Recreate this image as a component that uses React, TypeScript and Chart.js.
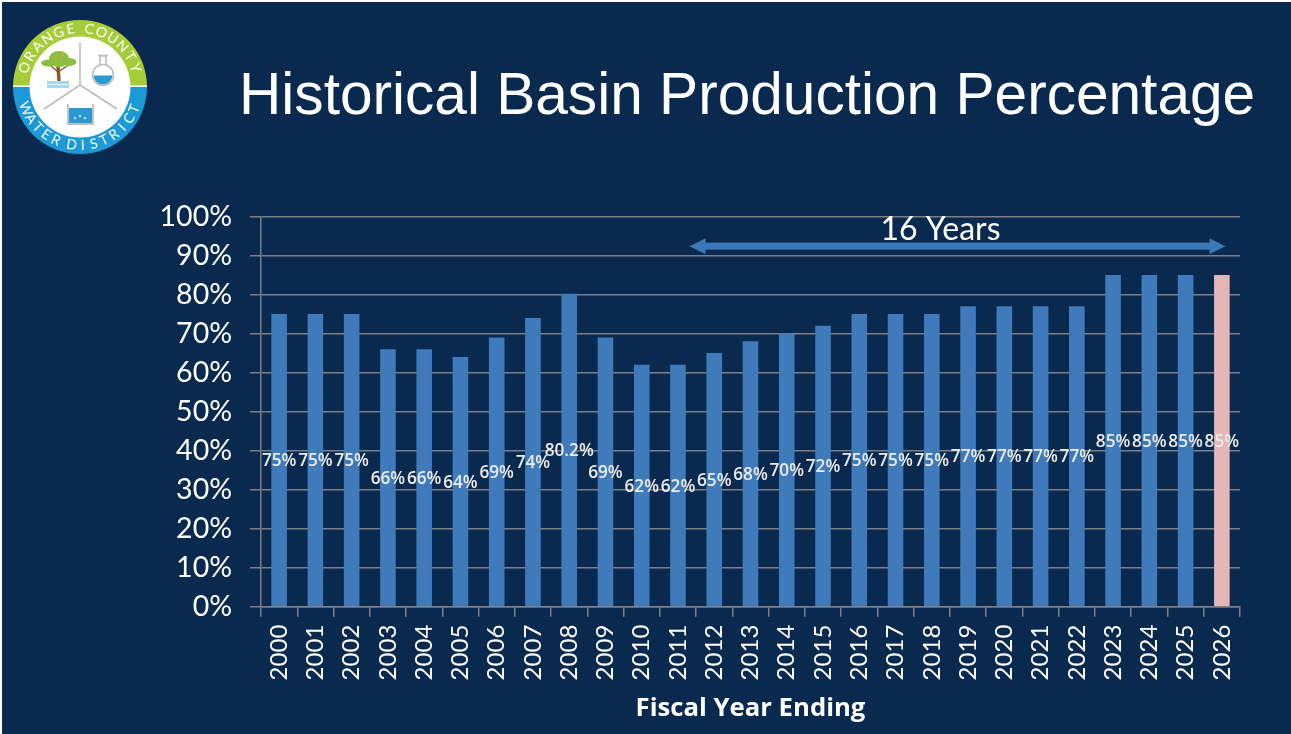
import React, { useEffect, useRef } from "react";
import { Chart, registerables } from "chart.js";

Chart.register(...registerables);

const years = ["2000","2001","2002","2003","2004","2005","2006","2007","2008","2009","2010","2011","2012","2013","2014","2015","2016","2017","2018","2019","2020","2021","2022","2023","2024","2025","2026"];
const percentages = [75,75,75,66,66,64,69,74,80.2,69,62,62,65,68,70,72,75,75,75,77,77,77,77,85,85,85,85];
const valueLabels = ["75%","75%","75%","66%","66%","64%","69%","74%","80.2%","69%","62%","62%","65%","68%","70%","72%","75%","75%","75%","77%","77%","77%","77%","85%","85%","85%","85%"];
const barColors = years.map((y) => (y === "2026" ? "#e6b5b5" : "#3f7abb"));
const titleText = "Historical Basin Production Percentage";
const axisTitle = "Fiscal Year Ending";
const spanLabel = "16 Years";
const spanStart = 11.32;
const spanEnd = 26.1;
const spanValue = 92.4;
const spanLabelValue = 96.6;
const spanLabelIndex = 18.24;

const NAVY = "#0a294e";
const TEXT = "#ffffff";
const GRID = "#7a7f88";

function arcText(ctx: CanvasRenderingContext2D, text: string, cx: number, cy: number, r: number, centerAngle: number, step: number, inward: boolean) {
  const chars = text.split("");
  const units = chars.map((c) => (c === " " ? 0.5 : 1));
  const total = units.reduce((s, u) => s + u, 0) - 1;
  let pos = -total / 2;
  chars.forEach((c, i) => {
    if (i > 0) pos += (units[i] + units[i - 1]) / 2;
    const off = pos * step;
    const a = inward ? centerAngle + off : centerAngle - off;
    ctx.save();
    ctx.translate(cx + r * Math.cos(a), cy + r * Math.sin(a));
    ctx.rotate(inward ? a + Math.PI / 2 : a - Math.PI / 2);
    ctx.fillText(c, 0, 0);
    ctx.restore();
  });
}

function drawLogo(ctx: CanvasRenderingContext2D) {
  const cx = 80, cy = 87;
  ctx.save();
  ctx.fillStyle = "#a5cd39";
  ctx.beginPath(); ctx.arc(cx, cy, 67, Math.PI, 2 * Math.PI); ctx.fill();
  ctx.fillStyle = "#1b9ad7";
  ctx.beginPath(); ctx.arc(cx, cy, 67, 0, Math.PI); ctx.fill();
  ctx.fillStyle = "#ffffff";
  ctx.fillRect(cx - 67, cy - 1.5, 134, 1.5);
  ctx.beginPath(); ctx.arc(cx, cy, 50.5, 0, 2 * Math.PI); ctx.fill();

  ctx.fillStyle = "#ffffff";
  ctx.font = "14px Lato";
  ctx.textAlign = "center";
  ctx.textBaseline = "middle";
  arcText(ctx, "ORANGE COUNTY", cx, cy, 58.5, -Math.PI / 2, 0.215, true);
  arcText(ctx, "WATER DISTRICT", cx, cy, 58.5, Math.PI / 2, 0.19, false);

  ctx.strokeStyle = "#bdbdbd";
  ctx.lineWidth = 1.6;
  ctx.beginPath();
  ctx.moveTo(80, 43); ctx.lineTo(80, 85);
  ctx.moveTo(44, 109); ctx.lineTo(80, 85); ctx.lineTo(117, 109);
  ctx.stroke();

  // tree
  ctx.strokeStyle = "#8a5a2b"; ctx.lineWidth = 3.5;
  ctx.beginPath(); ctx.moveTo(59, 81); ctx.lineTo(58, 66); ctx.stroke();
  ctx.lineWidth = 1.5;
  ctx.beginPath(); ctx.moveTo(58, 72); ctx.lineTo(51, 66); ctx.moveTo(58, 72); ctx.lineTo(67, 66); ctx.stroke();
  ctx.fillStyle = "#8cbf3f";
  ctx.beginPath();
  ctx.ellipse(59, 59, 10, 8, 0, 0, 2 * Math.PI);
  ctx.fill();
  ctx.beginPath();
  ctx.ellipse(49, 63, 8, 3.5, 0, 0, 2 * Math.PI);
  ctx.fill();
  ctx.beginPath();
  ctx.ellipse(69, 62, 7.5, 4, 0, 0, 2 * Math.PI);
  ctx.fill();
  ctx.fillStyle = "#e9a13b";
  [[56, 57], [63, 55], [61, 60]].forEach(([x, y]) => { ctx.beginPath(); ctx.arc(x, y, 1.1, 0, 2 * Math.PI); ctx.fill(); });
  ctx.fillStyle = "#a8d8f0";
  ctx.fillRect(47, 81, 22, 7);
  ctx.strokeStyle = "#ffffff"; ctx.lineWidth = 0.7;
  ctx.beginPath(); ctx.moveTo(47, 84.5); ctx.lineTo(69, 84.5); ctx.stroke();

  // flask
  ctx.strokeStyle = "#bdbdbd"; ctx.lineWidth = 1.6;
  ctx.beginPath(); ctx.arc(103, 75, 10.5, 0, 2 * Math.PI); ctx.stroke();
  ctx.fillStyle = "#2a9ad6";
  ctx.beginPath(); ctx.arc(103, 75, 9.5, 0.05, Math.PI - 0.05); ctx.fill();
  ctx.strokeStyle = "#bdbdbd";
  ctx.beginPath(); ctx.moveTo(100, 65); ctx.lineTo(100, 56); ctx.lineTo(106, 56); ctx.lineTo(106, 65); ctx.moveTo(98, 55.5); ctx.lineTo(108, 55.5); ctx.stroke();

  // tank
  ctx.fillStyle = "#2a9ad6";
  ctx.fillRect(69, 108, 23, 15);
  ctx.strokeStyle = "#bdbdbd"; ctx.lineWidth = 1.8;
  ctx.beginPath(); ctx.moveTo(68, 104); ctx.lineTo(68, 124); ctx.lineTo(93, 124); ctx.lineTo(93, 104); ctx.stroke();
  ctx.fillStyle = "#ffffff";
  [[75, 118], [80, 116], [85, 118]].forEach(([x, y]) => { ctx.beginPath(); ctx.arc(x, y, 1.1, 0, 2 * Math.PI); ctx.fill(); });
  ctx.restore();
}

const slidePlugin = {
  id: "slide",
  beforeDraw(chart: any) {
    const { ctx, width, height } = chart;
    ctx.save();
    ctx.fillStyle = "#ffffff";
    ctx.fillRect(0, 0, width, height);
    ctx.fillStyle = NAVY;
    ctx.fillRect(2, 2, width, height);
    ctx.restore();
    drawLogo(ctx);
    ctx.save();
    ctx.fillStyle = TEXT;
    ctx.font = "58.6px 'Liberation Sans'";
    ctx.textAlign = "left";
    ctx.textBaseline = "alphabetic";
    ctx.fillText(titleText, 239, 114);
    ctx.restore();
  },
  afterDatasetsDraw(chart: any) {
    const { ctx, scales } = chart;
    const x = scales.x, y = scales.y;
    const meta = chart.getDatasetMeta(0);
    ctx.save();
    ctx.fillStyle = "#ececec";
    ctx.font = "600 17.2px 'Open Sans'";
    ctx.textAlign = "center";
    ctx.textBaseline = "middle";
    meta.data.forEach((bar: any, i: number) => {
      ctx.fillText(valueLabels[i], bar.x, y.getPixelForValue(percentages[i] / 2) + 1);
    });

    const x0 = x.getPixelForValue(spanStart);
    const x1 = x.getPixelForValue(spanEnd);
    const ay = y.getPixelForValue(spanValue);
    ctx.fillStyle = "#3a78b8";
    ctx.fillRect(x0 + 10, ay - 3.5, x1 - x0 - 20, 7);
    ctx.beginPath();
    ctx.moveTo(x0, ay); ctx.lineTo(x0 + 16, ay - 8); ctx.lineTo(x0 + 16, ay + 8); ctx.closePath();
    ctx.moveTo(x1, ay); ctx.lineTo(x1 - 16, ay - 8); ctx.lineTo(x1 - 16, ay + 8); ctx.closePath();
    ctx.fill();

    ctx.fillStyle = TEXT;
    ctx.font = "32px Lato";
    ctx.fillText(spanLabel, x.getPixelForValue(spanLabelIndex), y.getPixelForValue(spanLabelValue));
    ctx.restore();
  },
};

export default function App() {
  const ref = useRef<HTMLCanvasElement>(null);
  useEffect(() => {
    document.body.style.margin = "0";
    const chart = new Chart(ref.current as HTMLCanvasElement, {
      type: "bar",
      data: {
        labels: years,
        datasets: [{
          data: percentages,
          backgroundColor: barColors,
          barPercentage: 0.43,
          categoryPercentage: 1,
        }],
      },
      plugins: [slidePlugin],
      options: {
        animation: false,
        responsive: false,
        layout: { padding: { top: 216.5, right: 51, bottom: 12, left: 0 } },
        plugins: { legend: { display: false }, tooltip: { enabled: false }, title: { display: false } },
        scales: {
          x: {
            afterFit(scale: any) { scale.height = 115.3; },
            grid: { display: true, drawOnChartArea: false, drawTicks: true, tickLength: 10, color: GRID, lineWidth: 1.5, offset: true },
            border: { color: GRID, width: 1.5 },
            ticks: { color: TEXT, font: { family: "Lato", size: 24 }, minRotation: 90, maxRotation: 90, autoSkip: false, padding: 8 },
            title: { display: true, text: axisTitle, color: TEXT, font: { family: "Open Sans", size: 25.7, weight: "bold" }, padding: { top: 6, bottom: -2 } },
          },
          y: {
            min: 0,
            max: 100,
            afterFit(scale: any) { scale.width = 261; },
            grid: { color: GRID, lineWidth: 1.5, tickLength: 11 },
            border: { color: GRID, width: 1.5 },
            ticks: { stepSize: 10, color: TEXT, font: { family: "Lato", size: 28.5 }, padding: 18, callback: (v: any) => `${v}%` },
          },
        },
      },
    } as any);
    return () => chart.destroy();
  }, []);
  return <canvas ref={ref} width={1291} height={734} style={{ display: "block" }} />;
}
